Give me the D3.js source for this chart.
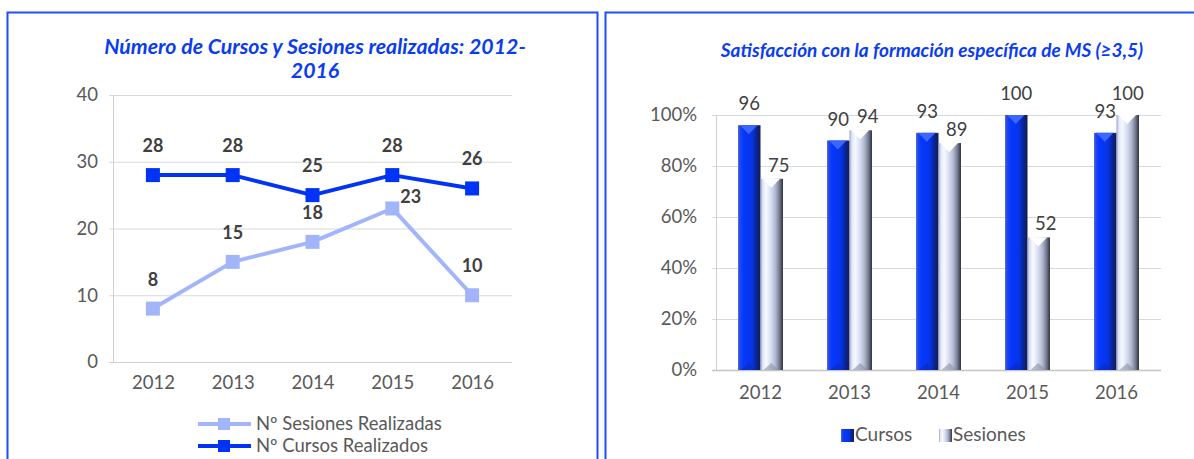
<!DOCTYPE html>
<html>
<head>
<meta charset="utf-8">
<script src="https://cdn.jsdelivr.net/npm/d3@7"></script>
<style>
  body { margin: 0; background: #fff; }
  svg { display: block; font-family: Lato, "Open Sans", sans-serif; }
</style>
</head>
<body>
<svg id="chart" width="1194" height="459"></svg>
<script>
// data
var years = ["2012", "2013", "2014", "2015", "2016"];
var sesionesRealizadas = [8, 15, 18, 23, 10];
var cursosRealizados = [28, 28, 25, 28, 26];
var leftTicks = [0, 10, 20, 30, 40];

var satisfSeries = ["Cursos", "Sesiones"];
var satisfCursos = [96, 90, 93, 100, 93];
var satisfSesiones = [75, 94, 89, 52, 100];
var rightTicks = [0, 0.2, 0.4, 0.6, 0.8, 1];

var svg = d3.select("#chart");
var blue = "#0033f5";
var light = "#a3b5fa";
var grey = "#595959";

// panel frames
svg.append("rect").attr("x", 7.5).attr("y", 12.5).attr("width", 590).attr("height", 470)
    .attr("fill", "none").attr("stroke", "#1f4dff").attr("stroke-width", 2);
svg.append("rect").attr("x", 605.5).attr("y", 12.5).attr("width", 600).attr("height", 470)
    .attr("fill", "none").attr("stroke", "#1f4dff").attr("stroke-width", 2);

// ---------- left chart: line ----------
var g1 = svg.append("g");
var x = d3.scalePoint().domain(years).range([113, 512]).padding(0.5);
var y = d3.scaleLinear().domain([0, 40]).range([362, 95]);

g1.append("text").attr("x", 315).attr("y", 54).attr("text-anchor", "middle")
    .attr("fill", "#0a3cf0").style("font-size", "21.3px").style("font-weight", "bold").style("font-style", "italic")
    .text("Número de Cursos y Sesiones realizadas: 2012-");
g1.append("text").attr("x", 315).attr("y", 78).attr("text-anchor", "middle")
    .attr("fill", "#0a3cf0").style("font-size", "21.3px").style("font-weight", "bold").style("font-style", "italic")
    .text("2016");

// grid
g1.selectAll("line.grid").data(leftTicks.slice(1)).enter().append("line")
    .attr("x1", 109).attr("x2", 512)
    .attr("y1", function (d) { return y(d) + 0.5; }).attr("y2", function (d) { return y(d) + 0.5; })
    .attr("stroke", "#d9d9d9");
g1.append("line").attr("x1", 113.5).attr("x2", 113.5).attr("y1", y(40)).attr("y2", y(0))
    .attr("stroke", "#d0d0d0");
g1.append("line").attr("x1", 109).attr("x2", 512).attr("y1", y(0) + 0.5).attr("y2", y(0) + 0.5)
    .attr("stroke", "#d0d0d0");

var yAxis1 = g1.append("g").attr("transform", "translate(113,0)")
    .call(d3.axisLeft(y).tickValues(leftTicks).tickSize(0).tickPadding(15));
yAxis1.select(".domain").remove();
yAxis1.selectAll("text").attr("fill", grey).style("font-size", "18.5px").style("font-family", "Lato");

var xAxis1 = g1.append("g").attr("transform", "translate(0,362)")
    .call(d3.axisBottom(x).tickSize(0).tickPadding(14));
xAxis1.select(".domain").remove();
xAxis1.selectAll("text").attr("fill", grey).style("font-size", "18.5px").style("font-family", "Lato");

var line = d3.line()
    .x(function (d, i) { return x(years[i]); })
    .y(function (d) { return y(d); });

function drawSeries(values, color) {
    g1.append("path").datum(values).attr("d", line)
        .attr("fill", "none").attr("stroke", color).attr("stroke-width", 4).attr("stroke-linejoin", "round");
    g1.selectAll(null).data(values).enter().append("rect")
        .attr("x", function (d, i) { return x(years[i]) - 7; })
        .attr("y", function (d) { return y(d) - 7; })
        .attr("width", 14).attr("height", 14)
        .attr("fill", color);
}
drawSeries(sesionesRealizadas, light);
drawSeries(cursosRealizados, blue);

function drawLabels(values, cls) {
    g1.selectAll(null).data(values).enter().append("text")
        .attr("x", function (d, i) { return x(years[i]) + (cls == "ses" && d == d3.max(values) ? 8 : 0); })
        .attr("y", function (d, i) { return y(d) + (cls == "ses" && d == d3.max(values) ? -5 : -23); })
        .attr("text-anchor", function (d) { return cls == "ses" && d == d3.max(values) ? "start" : "middle"; })
        .attr("fill", "#404040").style("font-size", "18px").style("font-weight", "bold")
        .text(function (d) { return d; });
}
drawLabels(cursosRealizados, "cur");
drawLabels(sesionesRealizadas, "ses");

// legend
var legend1 = [
    { name: "Nº Sesiones Realizadas", color: light },
    { name: "Nº Cursos Realizados", color: blue }
];
legend1.forEach(function (d, i) {
    var ly = 424 + i * 22;
    g1.append("line").attr("x1", 198).attr("x2", 251).attr("y1", ly).attr("y2", ly)
        .attr("stroke", d.color).attr("stroke-width", 4);
    g1.append("rect").attr("x", 218).attr("y", ly - 6).attr("width", 12).attr("height", 12).attr("fill", d.color);
    g1.append("text").attr("x", 256).attr("y", ly + 6).attr("fill", grey).style("font-size", "18.5px").text(d.name);
});

// ---------- right chart: 3d-looking bars ----------
var g2 = svg.append("g");
var defs = svg.append("defs");

function gradient(id, stops) {
    var gr = defs.append("linearGradient").attr("id", id).attr("x1", "0%").attr("x2", "100%").attr("y1", "0%").attr("y2", "0%");
    stops.forEach(function (s) { gr.append("stop").attr("offset", s[0]).attr("stop-color", s[1]); });
}
gradient("gCursos", [["0%", "#5a72cc"], ["8%", "#2448ea"], ["22%", "#0638ff"], ["62%", "#0534e6"], ["82%", "#0a2494"], ["100%", "#141c4a"]]);
gradient("gSesiones", [["0%", "#98a0bf"], ["10%", "#dfe5f8"], ["25%", "#f8faff"], ["45%", "#dae0f3"], ["65%", "#b4bbd2"], ["83%", "#7a8196"], ["100%", "#2e3240"]]);

var x0 = d3.scaleBand().domain(years).range([716, 1161]);
var x1 = d3.scaleBand().domain(satisfSeries).range([22, 67]);
var y2 = d3.scaleLinear().domain([0, 1]).range([370, 115]);

g2.append("text").attr("x", 932).attr("y", 57).attr("text-anchor", "middle")
    .attr("fill", "#0a3cf0").style("font-size", "19px").style("font-weight", "bold").style("font-style", "italic")
    .text("Satisfacción con la formación específica de MS (≥3,5)");

g2.selectAll("line.grid").data(rightTicks.slice(1)).enter().append("line")
    .attr("x1", 712).attr("x2", 1161)
    .attr("y1", function (d) { return y2(d) + 0.5; }).attr("y2", function (d) { return y2(d) + 0.5; })
    .attr("stroke", "#d9d9d9");
g2.append("line").attr("x1", 716.5).attr("x2", 716.5).attr("y1", y2(1)).attr("y2", y2(0))
    .attr("stroke", "#d0d0d0");
g2.append("line").attr("x1", 712).attr("x2", 1161).attr("y1", y2(0) + 0.5).attr("y2", y2(0) + 0.5)
    .attr("stroke", "#c4c4c4").attr("stroke-width", 1.5);

var yAxis2 = g2.append("g").attr("transform", "translate(716,0)")
    .call(d3.axisLeft(y2).tickValues(rightTicks).tickFormat(d3.format(".0%")).tickSize(0).tickPadding(19));
yAxis2.select(".domain").remove();
yAxis2.selectAll("text").attr("fill", grey).style("font-size", "18.5px").style("font-family", "Lato");

var xAxis2 = g2.append("g").attr("transform", "translate(0,370)")
    .call(d3.axisBottom(x0).tickSize(0).tickPadding(16));
xAxis2.select(".domain").remove();
xAxis2.selectAll("text").attr("fill", grey).style("font-size", "18.5px").style("font-family", "Lato");

var barData = [];
years.forEach(function (yr, i) {
    barData.push({ year: yr, series: "Cursos", value: satisfCursos[i] });
    barData.push({ year: yr, series: "Sesiones", value: satisfSesiones[i] });
});

var bars = g2.selectAll("g.bar").data(barData).enter().append("g").attr("class", "bar");
bars.append("rect")
    .attr("x", function (d) { return x0(d.year) + x1(d.series); })
    .attr("y", function (d) { return y2(d.value / 100); })
    .attr("width", x1.bandwidth())
    .attr("height", function (d) { return y2(0) - y2(d.value / 100); })
    .attr("fill", function (d) { return d.series == "Cursos" ? "url(#gCursos)" : "url(#gSesiones)"; });
// top bevel
bars.append("path")
    .attr("d", function (d) {
        var bx = x0(d.year) + x1(d.series), bw = x1.bandwidth(), by = y2(d.value / 100);
        return "M" + (bx + 2) + "," + by + "L" + (bx + bw - 3) + "," + by + "L" + (bx + bw / 2 - 0.5) + "," + (by + 9) + "Z";
    })
    .attr("fill", function (d) { return d.series == "Cursos" ? "#3d66ff" : "#ffffff"; });
// bottom bevel
bars.append("path")
    .attr("d", function (d) {
        var bx = x0(d.year) + x1(d.series), bw = x1.bandwidth(), by = y2(0);
        return "M" + (bx + 3) + "," + by + "L" + (bx + bw - 4) + "," + by + "L" + (bx + bw / 2 - 0.5) + "," + (by - 7) + "Z";
    })
    .attr("fill", function (d) { return d.series == "Cursos" ? "#0a2cb8" : "#8890a8"; }).attr("opacity", 0.6);

g2.selectAll("text.val").data(barData).enter().append("text")
    .attr("x", function (d) {
        return x0(d.year) + x1(d.series) + x1.bandwidth() / 2 + (d.series == "Sesiones" && d.value < 100 ? 7 : 0);
    })
    .attr("y", function (d) { return y2(d.value / 100) + (d.series == "Sesiones" && d.value < 100 ? -7 : -15); })
    .attr("text-anchor", "middle").attr("fill", "#404040").style("font-size", "18.5px")
    .text(function (d) { return d.value; });

// legend
var legend2 = [{ name: "Cursos", x: 841 }, { name: "Sesiones", x: 939 }];
legend2.forEach(function (d) {
    g2.append("rect").attr("x", d.x).attr("y", 429).attr("width", 13).attr("height", 13)
        .attr("fill", d.name == "Cursos" ? "url(#gCursos)" : "url(#gSesiones)");
    g2.append("text").attr("x", d.x + 14).attr("y", 441).attr("fill", grey).style("font-size", "19px").text(d.name);
});
</script>
</body>
</html>
